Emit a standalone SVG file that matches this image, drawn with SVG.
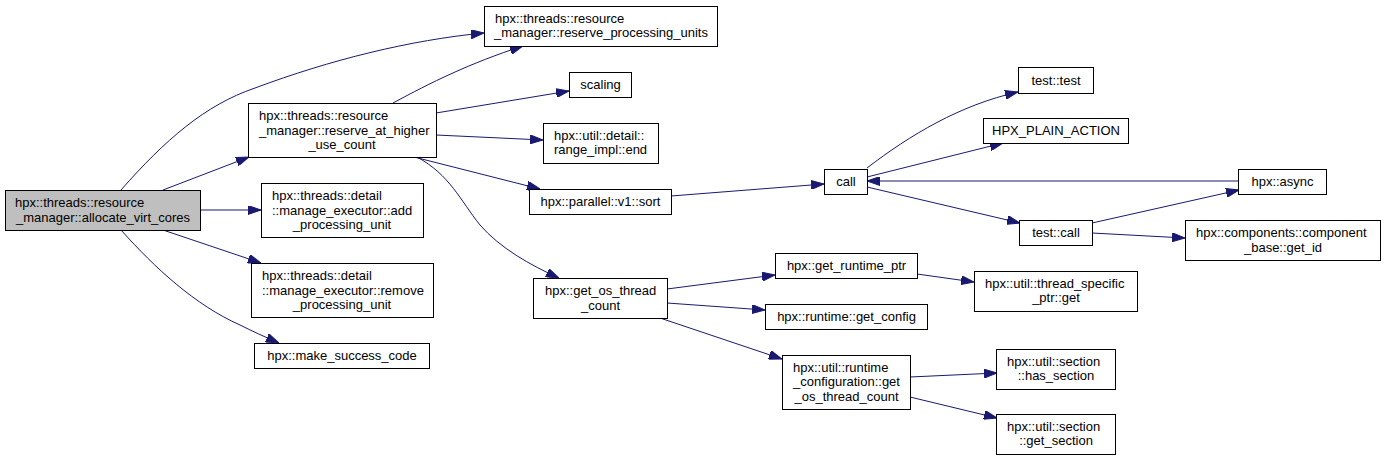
<svg xmlns="http://www.w3.org/2000/svg" width="1385" height="460" viewBox="0 0 1385 460">
<defs>
<style>
.n rect{fill:#ffffff;stroke:#000000;stroke-width:1}
.n.m rect{fill:#bfbfbf}
.n text{font-family:"Liberation Sans",Arial,sans-serif;font-size:13px;fill:#000000}
.c{text-anchor:middle}
#edges path{fill:none;stroke:#191970;stroke-width:1;marker-end:url(#ah)}
</style>
<marker id="ah" markerUnits="userSpaceOnUse" markerWidth="13" markerHeight="9" refX="13" refY="4.5" orient="auto">
<path d="M0,0 L13,4.5 L0,9 z" fill="#191970" stroke="#191970" stroke-width="1"/>
</marker>
</defs>
<rect width="1385" height="460" fill="#ffffff"/>
<g id="edges">
<path d="M121,190 C165,140 205,105 255,88 C330,60 410,40 484,33"/>
<path d="M163,190 L249,157"/>
<path d="M200,210 L261,210"/>
<path d="M163,230 L261,263"/>
<path d="M121,230 C155,268 195,305 240,325 C252,331 265,337 279,343"/>
<path d="M393,103 C430,83 470,63 523,46"/>
<path d="M436,113 L569,91"/>
<path d="M436,135 L543,140"/>
<path d="M414,157 L540,189"/>
<path d="M417,157 C450,175 460,200 480,225 C500,248 530,265 559,278"/>
<path d="M671,196 L824,184"/>
<path d="M867,168 C910,135 960,105 1018,92"/>
<path d="M867,177 L1003,143"/>
<path d="M1238,181 L867,181"/>
<path d="M867,187 L1020,223"/>
<path d="M1092,223 L1239,190"/>
<path d="M1092,233 L1185,238"/>
<path d="M667,289 L775,275"/>
<path d="M667,303 L765,310"/>
<path d="M660,318 L782,359"/>
<path d="M917,274 L974,282"/>
<path d="M910,377 L997,373"/>
<path d="M910,397 L997,418"/>
</g>
<g id="n1" class="n m"><rect x="5.5" y="190.5" width="195" height="40"/><text x="15" y="207">hpx::threads::resource</text><text class="c" x="103" y="221.5">_manager::allocate_virt_cores</text></g>
<g id="n2" class="n"><rect x="484.5" y="6.5" width="233" height="40"/><text x="495" y="22.5">hpx::threads::resource</text><text class="c" x="601" y="37">_manager::reserve_processing_units</text></g>
<g id="n3" class="n"><rect x="248.5" y="103.5" width="188" height="54"/><text x="259" y="120">hpx::threads::resource</text><text x="259" y="134.5">_manager::reserve_at_higher</text><text class="c" x="342" y="149">_use_count</text></g>
<g id="n4" class="n"><rect x="569.5" y="72.5" width="62" height="25"/><text class="c" x="600.5" y="89">scaling</text></g>
<g id="n5" class="n"><rect x="543.5" y="123.5" width="115" height="40"/><text x="554" y="139.5">hpx::util::detail::</text><text class="c" x="600.5" y="154">range_impl::end</text></g>
<g id="n6" class="n"><rect x="261.5" y="183.5" width="162" height="54"/><text x="272" y="200">hpx::threads::detail</text><text x="272" y="214.5">::manage_executor::add</text><text class="c" x="342" y="229">_processing_unit</text></g>
<g id="n7" class="n"><rect x="251.5" y="263.5" width="182" height="54"/><text x="262" y="280">hpx::threads::detail</text><text x="262" y="294.5">::manage_executor::remove</text><text class="c" x="342" y="309">_processing_unit</text></g>
<g id="n8" class="n"><rect x="254.5" y="343.5" width="175" height="25"/><text class="c" x="342" y="359.5">hpx::make_success_code</text></g>
<g id="n9" class="n"><rect x="529.5" y="189.5" width="142" height="25"/><text class="c" x="600.5" y="206">hpx::parallel::v1::sort</text></g>
<g id="n10" class="n"><rect x="824.5" y="169.5" width="43" height="25"/><text class="c" x="846" y="186">call</text></g>
<g id="n11" class="n"><rect x="1018.5" y="67.5" width="75" height="26"/><text class="c" x="1056" y="84.5">test::test</text></g>
<g id="n12" class="n"><rect x="983.5" y="118.5" width="145" height="25"/><text class="c" x="1056" y="135">HPX_PLAIN_ACTION</text></g>
<g id="n13" class="n"><rect x="1019.5" y="220.5" width="73" height="25"/><text class="c" x="1056" y="237">test::call</text></g>
<g id="n14" class="n"><rect x="1238.5" y="169.5" width="88" height="25"/><text class="c" x="1282.5" y="186">hpx::async</text></g>
<g id="n15" class="n"><rect x="1185.5" y="220.5" width="195" height="40"/><text x="1196" y="237">hpx::components::component</text><text class="c" x="1283" y="251.5">_base::get_id</text></g>
<g id="n16" class="n"><rect x="533.5" y="278.5" width="134" height="40"/><text x="545" y="294.5">hpx::get_os_thread</text><text class="c" x="600.5" y="309.5">_count</text></g>
<g id="n17" class="n"><rect x="775.5" y="253.5" width="142" height="25"/><text class="c" x="846.5" y="270">hpx::get_runtime_ptr</text></g>
<g id="n18" class="n"><rect x="765.5" y="304.5" width="162" height="25"/><text class="c" x="846.5" y="321">hpx::runtime::get_config</text></g>
<g id="n19" class="n"><rect x="974.5" y="271.5" width="163" height="40"/><text x="985" y="287.5">hpx::util::thread_specific</text><text class="c" x="1056" y="302">_ptr::get</text></g>
<g id="n20" class="n"><rect x="782.5" y="355.5" width="128" height="54"/><text x="793" y="371.5">hpx::util::runtime</text><text x="793" y="385.5">_configuration::get</text><text class="c" x="846.5" y="400.5">_os_thread_count</text></g>
<g id="n21" class="n"><rect x="996.5" y="349.5" width="119" height="40"/><text x="1007" y="365.5">hpx::util::section</text><text class="c" x="1056" y="379.5">::has_section</text></g>
<g id="n22" class="n"><rect x="996.5" y="414.5" width="119" height="40"/><text x="1007" y="430.5">hpx::util::section</text><text class="c" x="1056" y="445">::get_section</text></g>
</svg>
